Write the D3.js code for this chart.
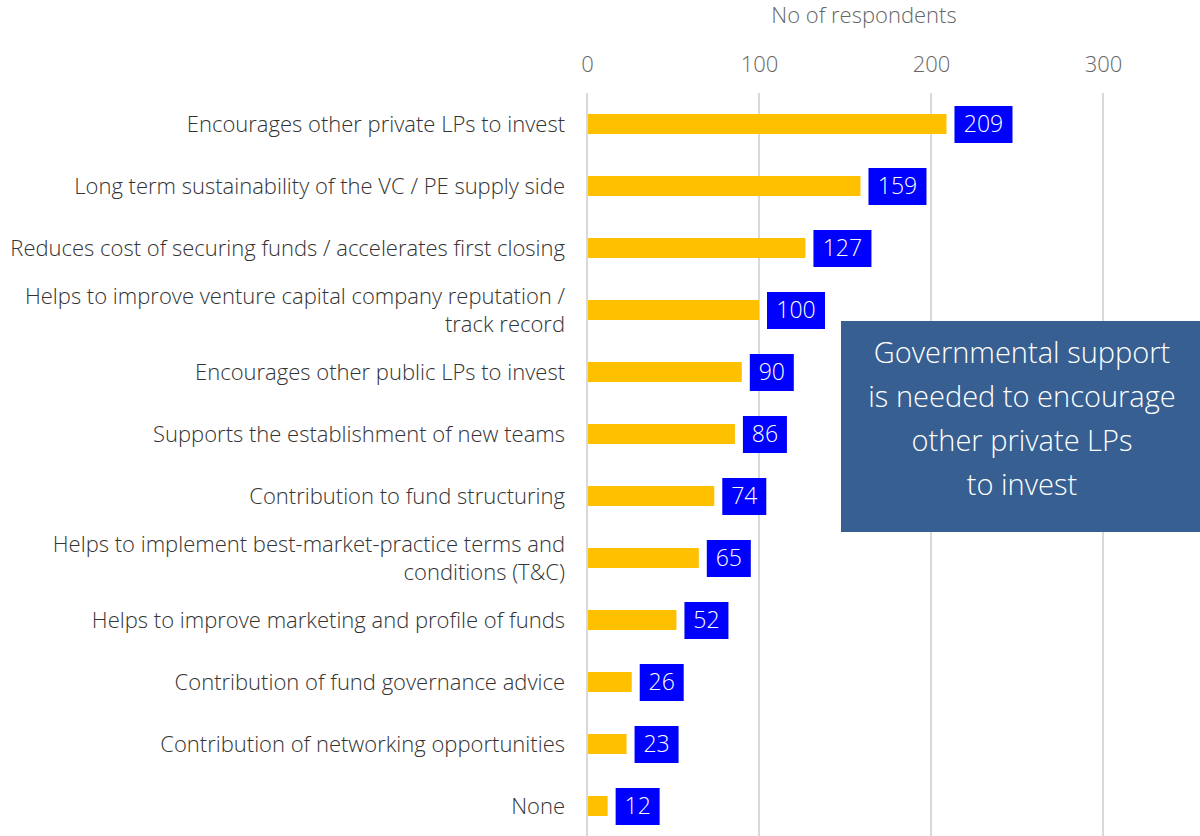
<!DOCTYPE html>
<html>
<head>
<meta charset="utf-8">
<script src="https://cdn.jsdelivr.net/npm/d3@7"></script>
<style>
  body { margin: 0; background: #fff; }
  svg { display: block; font-family: "Open Sans", Lato, sans-serif; font-weight: 300; }
</style>
</head>
<body>
<script>
// categories, top to bottom
const categories = [
  ["Encourages other private LPs to invest"],
  ["Long term sustainability of the VC / PE supply side"],
  ["Reduces cost of securing funds / accelerates first closing"],
  ["Helps to improve venture capital company reputation /", "track record"],
  ["Encourages other public LPs to invest"],
  ["Supports the establishment of new teams"],
  ["Contribution to fund structuring"],
  ["Helps to implement best-market-practice terms and", "conditions (T&C)"],
  ["Helps to improve marketing and profile of funds"],
  ["Contribution of fund governance advice"],
  ["Contribution of networking opportunities"],
  ["None"]
]
const values = [209, 159, 127, 100, 90, 86, 74, 65, 52, 26, 23, 12]
const xTicks = [0, 100, 200, 300]
const calloutLines = ["Governmental support", "is needed to encourage", "other private LPs", "to invest"]

const svgwidth = 1200
const svgheight = 836

const svg = d3.select('body')
  .append('svg')
    .attr('width', svgwidth)
    .attr('height', svgheight)

const x = d3.scaleLinear().domain([0, 300]).range([587, 1103])
const y = d3.scaleBand().domain(d3.range(categories.length)).range([93, 837]).padding(0)
const barH = 20

// gridlines
svg.append('g')
  .selectAll('line')
  .data(xTicks)
  .join('line')
    .attr('x1', d => x(d))
    .attr('x2', d => x(d))
    .attr('y1', 93)
    .attr('y2', svgheight)
    .attr('stroke', '#d9d9d9')
    .attr('stroke-width', 2)

// top axis
const axis = svg.append('g')
  .attr('transform', 'translate(0,72)')
  .call(d3.axisTop(x).tickValues(xTicks).tickSize(0).tickPadding(0))
axis.select('.domain').remove()
axis.selectAll('text')
  .attr('font-family', '"Open Sans", sans-serif')
  .attr('font-weight', 300)
  .attr('font-size', 22)
  .attr('fill', '#666')

svg.append('text')
  .attr('x', 864)
  .attr('y', 23)
  .attr('text-anchor', 'middle')
  .attr('font-size', 22)
  .attr('fill', '#666')
  .text('No of respondents')

const rows = svg.append('g')
  .selectAll('g')
  .data(values)
  .join('g')
    .attr('transform', (d, i) => `translate(0,${y(i) + y.bandwidth() / 2})`)

// bars
rows.append('rect')
  .attr('x', x(0) + 1)
  .attr('y', -barH / 2)
  .attr('width', d => x(d) - x(0) - 1)
  .attr('height', barH)
  .attr('fill', '#ffc000')

// value boxes
const boxW = d => String(d).length * 14 + 16
rows.append('rect')
  .attr('x', d => x(d) + 8)
  .attr('y', -18)
  .attr('width', boxW)
  .attr('height', 37)
  .attr('fill', '#0000ff')

rows.append('text')
  .attr('x', d => x(d) + 8 + boxW(d) / 2)
  .attr('y', 8)
  .attr('text-anchor', 'middle')
  .attr('font-size', 23)
  .attr('fill', '#fff')
  .text(d => d)

// category labels
rows.append('text')
  .attr('x', 565)
  .attr('text-anchor', 'end')
  .attr('font-size', 22)
  .attr('fill', '#333')
  .each(function (d, i) {
    const lines = categories[i]
    const t = d3.select(this)
    lines.forEach((line, j) => {
      t.append('tspan')
        .attr('x', 565)
        .attr('y', 8 + (j - (lines.length - 1) / 2) * 28)
        .text(line)
    })
  })

// callout
svg.append('rect')
  .attr('x', 841)
  .attr('y', 321)
  .attr('width', 359)
  .attr('height', 211)
  .attr('fill', '#375f91')

svg.append('g')
  .selectAll('text')
  .data(calloutLines)
  .join('text')
    .attr('x', 1022)
    .attr('y', (d, i) => 363 + i * 44)
    .attr('text-anchor', 'middle')
    .attr('font-size', 29)
    .attr('fill', '#fff')
    .text(d => d)
</script>
</body>
</html>
